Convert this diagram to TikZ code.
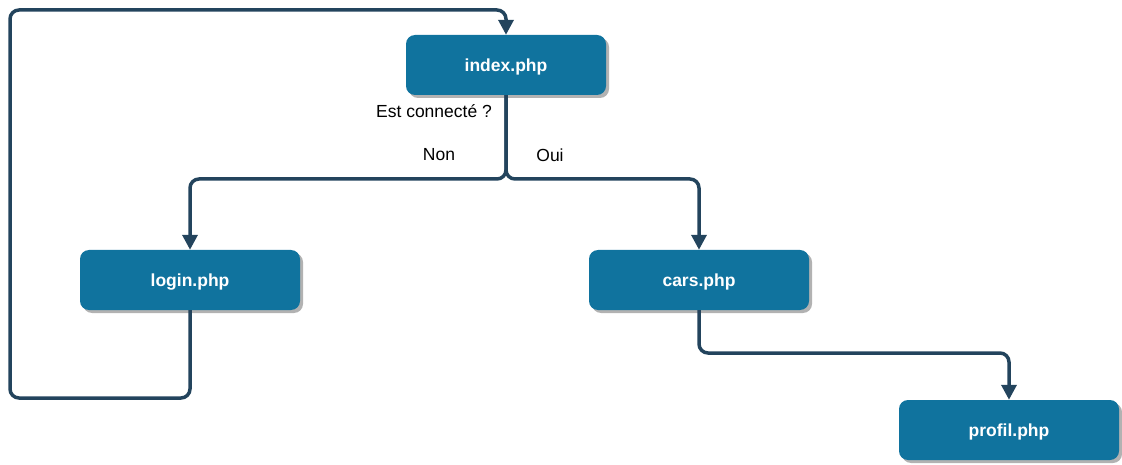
\documentclass[tikz,border=0pt]{standalone}
\usepackage{fontspec}
\setmainfont{Liberation Sans}
\usetikzlibrary{arrows.meta,shadows}
\definecolor{pagefill}{HTML}{10739E}
\definecolor{linkcol}{HTML}{23445D}
\tikzset{
  page/.style={rectangle,rounded corners=9pt,fill=pagefill,text=white,
    minimum width=220pt,minimum height=60pt,inner sep=0pt,text depth=0pt,
    font=\bfseries\fontsize{17.5}{20}\selectfont,
    drop shadow={shadow xshift=3pt,shadow yshift=-3pt,fill=black!30,opacity=1}},
  link/.style={draw=linkcol,line width=3.5pt,rounded corners=9pt,
    -{Triangle[width=15pt,length=15pt]}},
  lbl/.style={font=\fontsize{17.5}{20}\selectfont}
}
\begin{document}
\begin{tikzpicture}[x=1pt,y=1pt]
  \useasboundingbox (0,0) rectangle (1122,464);
  \node[page,minimum width=200pt] (index) at (506,399) {index.php};
  \node[page] (login) at (190,184) {login.php};
  \node[page] (cars) at (699,184) {cars.php};
  \node[page] (profil) at (1009,34) {profil.php};
  \coordinate (split) at (506,285);
  \coordinate (bl) at (10,66);
  \coordinate (tl) at (10,454);
  \coordinate (drop) at (850,111);
  % branches
  \draw[link] (index.south) -- (split) -| (login.north);
  \draw[link] (index.south) -- (split) -| (cars.north);
  \draw[link] (login.south) |- (bl) -- (tl) -| (index.north);
  \draw[link] (cars.south) |- (drop) -| (profil.north);
  % texte
  \node[lbl] (ask) at (434,353) {Est connecté ?};
  \node[lbl] (non) at (439,309) {Non};
  \node[lbl] (oui) at (550,309) {Oui};
\end{tikzpicture}
\end{document}
